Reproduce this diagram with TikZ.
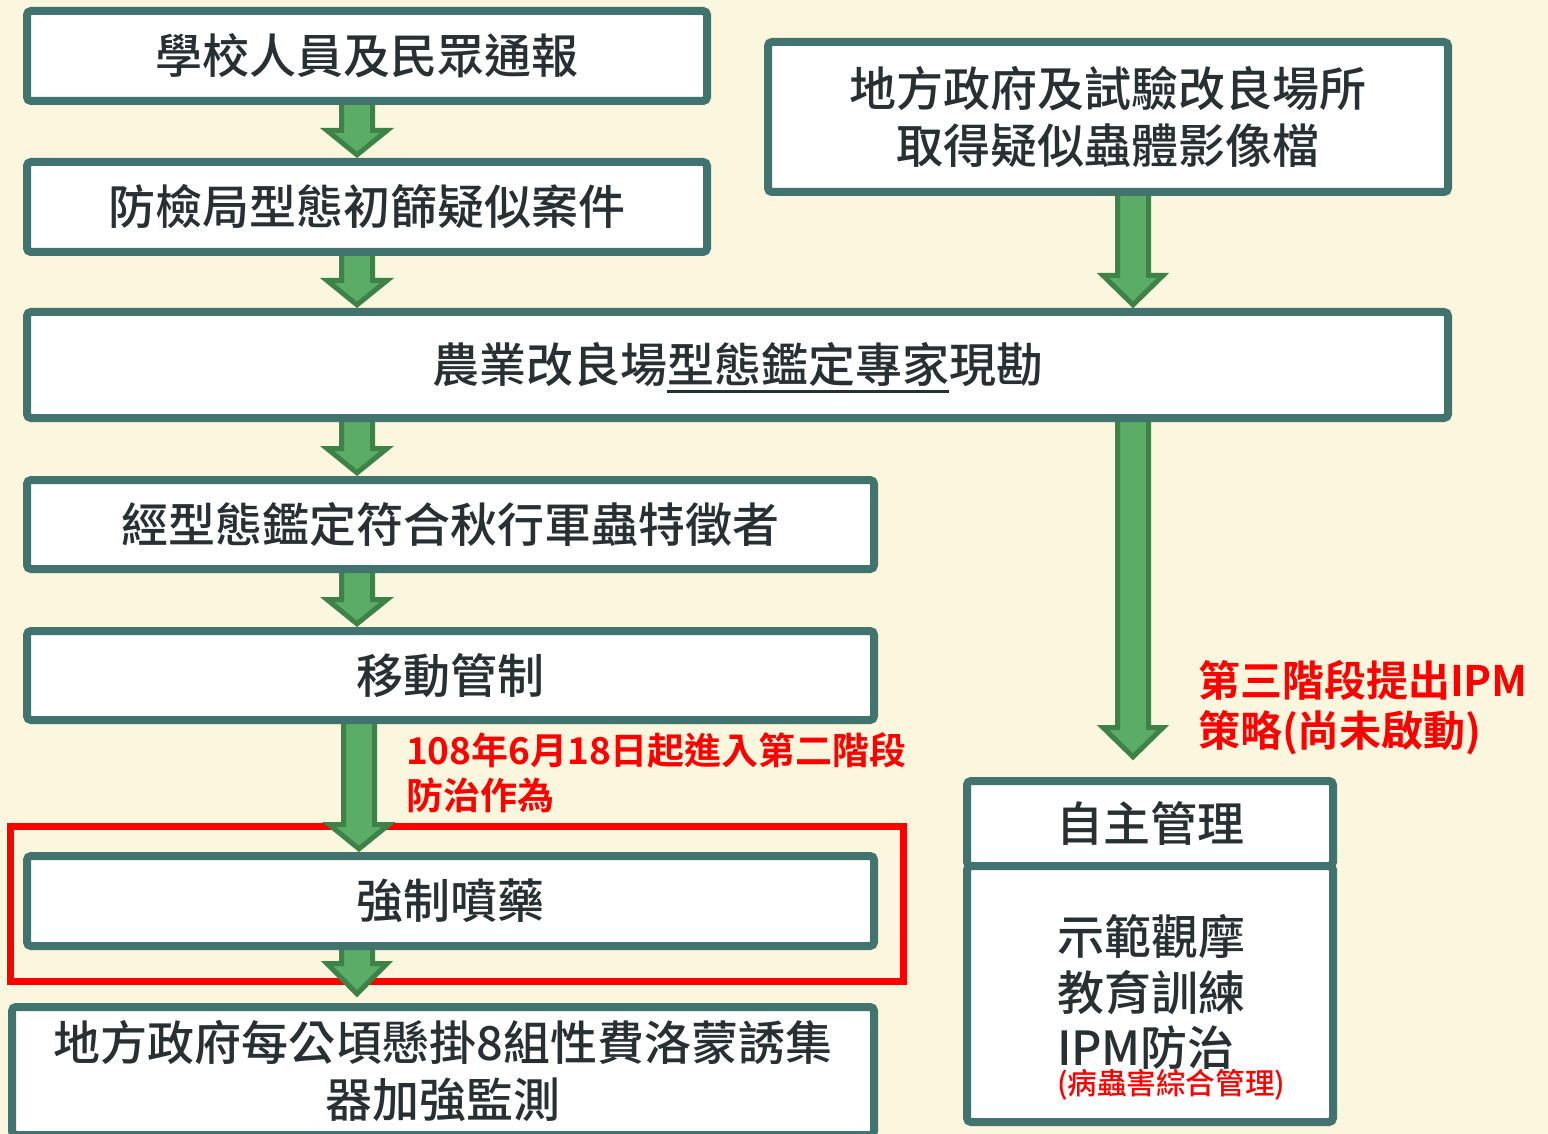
\documentclass[tikz,border=0pt]{standalone}
\usepackage{fontspec}
\setmainfont{Noto Sans CJK TC}[UprightFont={* Medium}, BoldFont={* Bold}]
\usetikzlibrary{calc}
\definecolor{bgc}{RGB}{250,247,222}
\definecolor{bordc}{RGB}{65,115,111}
\definecolor{txtc}{RGB}{40,48,52}
\definecolor{grfill}{RGB}{90,172,103}
\definecolor{grline}{RGB}{62,130,72}
\definecolor{redc}{RGB}{255,0,0}
\pgfdeclarelayer{bg}
\pgfsetlayers{bg,main}
\tikzset{
  box/.style={draw=bordc, line width=4pt, fill=white, rounded corners=2pt,
    outer sep=0pt, inner sep=0pt, text=txtc, align=center,
    font=\fontsize{23.5pt}{28.5pt}\selectfont},
  txt/.style={inner sep=0pt, outer sep=0pt, text=txtc,
    font=\fontsize{23.5pt}{28.5pt}\selectfont},
  redt/.style={inner sep=0pt, outer sep=0pt, text=redc, align=left},
  garrowsty/.style={fill=grfill, draw=grline, line width=2.5pt, line join=miter},
}
% #1 x (px), #2 from node, #3 to node, #4 gap (px), #5 head length (px)
\newcommand{\garrow}[5]{%
  \draw[garrowsty] let \p3=(#1,0), \p1=(#2.south), \p2=(#3.north) in
    ({\x3-7.75pt},\y1) -- ({\x3+7.75pt},\y1)
    -- ({\x3+7.75pt},{\y2+(#4+#5)*0.5pt+0.75pt})
    -- ({\x3+15pt},{\y2+(#4+#5)*0.5pt+0.75pt})
    -- (\x3,{\y2+#4*0.5pt+3.6pt})
    -- ({\x3-15pt},{\y2+(#4+#5)*0.5pt+0.75pt})
    -- ({\x3-7.75pt},{\y2+(#4+#5)*0.5pt+0.75pt}) -- cycle;}
\newcommand{\myul}[1]{\setbox0\hbox{#1}\rlap{\raisebox{-5.25pt}[0pt][0pt]{\rule{\wd0}{1.5pt}}}\box0}
\begin{document}
\begin{tikzpicture}[x=0.5pt,y=-0.5pt]
\useasboundingbox (0,0) rectangle (1548,1134);
% boxes
\node[box, minimum width=340pt, minimum height=45pt] (b1) at (367,56) {學校人員及民眾通報};
\node[box, minimum width=340pt, minimum height=45pt] (b2) at (367,207) {防檢局型態初篩疑似案件};
\node[box, minimum width=340pt, minimum height=75pt] (b3) at (1108,117) {地方政府及試驗改良場所\\取得疑似蟲體影像檔};
\node[box, minimum width=710.5pt, minimum height=53pt] (b4) at (737.5,365) {農業改良場\myul{型態鑑定專家}現勘};
\node[box, minimum width=423.5pt, minimum height=44.5pt] (b5) at (450.5,524.5) {經型態鑑定符合秋行軍蟲特徵者};
\node[box, minimum width=423.5pt, minimum height=44.5pt] (b6) at (450.5,675.5) {移動管制};
\node[box, minimum width=423.5pt, minimum height=45pt] (b7) at (450.5,901) {強制噴藥};
\node[box, minimum width=431pt, minimum height=64pt] (b8) at (443,1071) {地方政府每公頃懸掛8組性費洛蒙誘集\\器加強監測};
\node[box, minimum width=183pt, minimum height=42.5pt] (b9a) at (1150,823.5) {自主管理};
\node[box, minimum width=183pt, minimum height=128pt] (b9b) at (1150,994) {};
% texts in the lower right box
\node[txt, anchor=west] (t1) at (1057,937) {示範觀摩};
\node[txt, anchor=west] (t2) at (1057,993) {教育訓練};
\node[txt, anchor=west] (t3) at (1057,1048) {IPM防治};
\node[redt, anchor=west, font=\fontsize{14.8pt}{17pt}\selectfont] (t4) at (1057,1085) {(病蟲害綜合管理)};
% red notes
\node[redt, anchor=west, font=\bfseries\fontsize{18.5pt}{22.5pt}\selectfont] (r1) at (406,772.5) {108年6月18日起進入第二階段\\防治作為};
\node[redt, anchor=west, font=\bfseries\fontsize{21pt}{25pt}\selectfont] (r2) at (1198,708) {第三階段提出IPM\\策略(尚未啟動)};
\begin{pgfonlayer}{bg}
  \fill[bgc] (0,0) rectangle (1548,1134);
  \draw[redc, line width=3.5pt] (10,826) rectangle (903,981);
  \garrow{357}{b1}{b2}{0}{30}
  \garrow{357}{b2}{b4}{0}{30}
  \garrow{1133}{b3}{b4}{0}{35}
  \garrow{357}{b4}{b5}{0}{30}
  \garrow{357}{b5}{b6}{0}{30}
  \garrow{359}{b6}{b7}{0}{30}
  \garrow{357}{b7}{b8}{6}{36}
  \garrow{1133}{b4}{b9a}{17}{35}
\end{pgfonlayer}
\end{tikzpicture}
\end{document}
